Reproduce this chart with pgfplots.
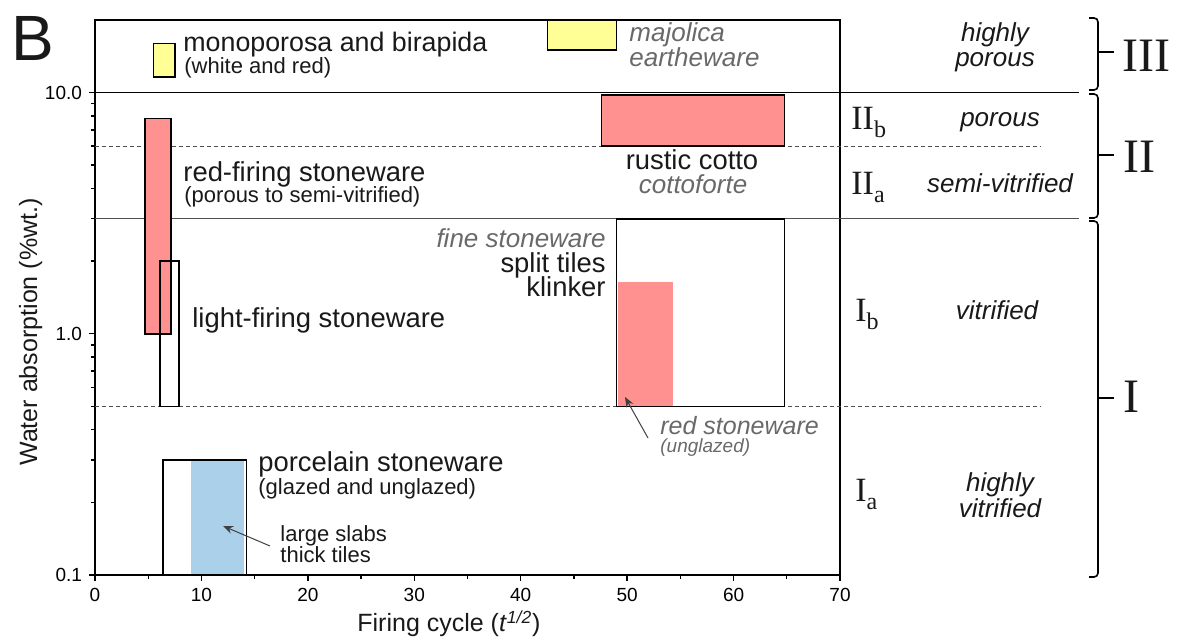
\documentclass[border=0pt]{standalone}
\usepackage{fontspec}
\setmainfont{Liberation Sans}
\newfontfamily\romanfont{Liberation Serif}
\usepackage{pgfplots}
\pgfplotsset{compat=1.18}
\usetikzlibrary{arrows.meta}

\definecolor{redfill}{RGB}{255,145,145}
\definecolor{yellowfill}{RGB}{255,255,150}
\definecolor{bluefill}{RGB}{170,208,234}
\definecolor{notegray}{RGB}{105,105,105}
\definecolor{refgray}{RGB}{80,80,80}
\definecolor{textblack}{RGB}{25,25,25}

\newcommand{\fs}[1]{\fontsize{#1}{#1}\selectfont}

\begin{document}
\begin{tikzpicture}
\begin{axis}[
  scale only axis,
  width=372.5pt, height=277.5pt,
  at={(0,0)}, anchor=south west,
  xmin=0, xmax=70,
  ymode=log, ymin=0.1, ymax=20,
  xtick={0,10,...,70},
  xticklabels={0,10,20,30,40,50,60,70},
  minor xtick={5,15,...,65},
  ytick={0.1,1,10},
  yticklabels={0.1,1.0,10.0},
  tick pos=left,
  tick align=outside,
  major tick length=3pt, minor tick length=1.8pt,
  tick label style={font=\fs{9.5}},
  axis line style={line width=0.8pt},
  every tick/.style={black, line width=0.7pt},
  no markers,
  clip=false,
]
% zone limits (water absorption classes)
\addplot[black, line width=0.9pt] coordinates {(0,10) (92.5,10)};
\addplot[refgray, line width=0.5pt] coordinates {(0,3) (92.5,3)};
\addplot[refgray, line width=0.5pt, dash pattern=on 2pt off 1.5pt] coordinates {(0,6) (88.8,6)};
\addplot[refgray, line width=0.5pt, dash pattern=on 2pt off 1.5pt] coordinates {(0,0.5) (88.8,0.5)};

% monoporosa / majolica
\addplot[fill=yellowfill, draw=black, line width=0.8pt] coordinates {(5.5,11.6) (7.5,11.6) (7.5,16) (5.5,16)} -- cycle;
\addplot[fill=yellowfill, draw=black, line width=0.8pt] coordinates {(42.5,15) (49.0,15) (49.0,20) (42.5,20)} -- cycle;
% rustic cotto
\addplot[fill=redfill, draw=black, line width=0.8pt] coordinates {(47.6,6) (64.8,6) (64.8,9.8) (47.6,9.8)} -- cycle;
% red-firing stoneware
\addplot[fill=redfill, draw=black, line width=0.8pt] coordinates {(4.7,1.0) (7.14,1.0) (7.14,7.8) (4.7,7.8)} -- cycle;
% light-firing stoneware
\addplot[draw=black, line width=0.8pt] coordinates {(6.1,0.5) (7.9,0.5) (7.9,2.0) (6.1,2.0)} -- cycle;
% red stoneware and fine stoneware
\addplot[fill=redfill, draw=none] coordinates {(49.1,0.5) (54.3,0.5) (54.3,1.64) (49.1,1.64)} -- cycle;
\addplot[draw=black, line width=0.8pt] coordinates {(49.0,0.5) (64.8,0.5) (64.8,3.0) (49.0,3.0)} -- cycle;
% porcelain stoneware
\addplot[fill=bluefill, draw=none] coordinates {(9.0,0.1) (14.0,0.1) (14.0,0.3) (9.0,0.3)} -- cycle;
\addplot[draw=black, line width=0.8pt] coordinates {(6.4,0.1) (14.25,0.1) (14.25,0.3) (6.4,0.3)} -- cycle;
\end{axis}

% annotations, in pixel units of the reference
\begin{scope}[x=0.5pt, y=-0.5pt, shift={(-95,-575)}, every node/.style={inner sep=0pt, text=textblack}]
\node[font=\fs{32}] at (33,38) {B};
\node[anchor=base, rotate=90, font=\fs{12.5}] at (37,332) {Water absorption (\%wt.)};
\node[anchor=base west, font=\fs{12.5}] at (357,632) {Firing cycle (\textit{t}\textsuperscript{\textit{1/2}})};

\node[anchor=base west, font=\fs{13.4}] at (183,52) {monoporosa and birapida};
\node[anchor=base west, font=\fs{11}] at (184,74) {(white and red)};
\node[anchor=base west, font=\fs{13}\itshape, text=notegray] at (629,42) {majolica};
\node[anchor=base west, font=\fs{13}\itshape, text=notegray] at (629,67) {eartheware};
\node[anchor=base west, font=\fs{13.7}] at (183,182) {red-firing stoneware};
\node[anchor=base west, font=\fs{11}] at (184,203) {(porous to semi-vitrified)};
\node[anchor=base, font=\fs{13.7}] at (692,170) {rustic cotto};
\node[anchor=base, font=\fs{13}\itshape, text=notegray] at (693,194) {cottoforte};
\node[anchor=base east, font=\fs{13}\itshape, text=notegray] at (606,248) {fine stoneware};
\node[anchor=base east, font=\fs{13.7}] at (606,273) {split tiles};
\node[anchor=base east, font=\fs{13.7}] at (606,297) {klinker};
\node[anchor=base west, font=\fs{13.7}] at (192,328) {light-firing stoneware};
\node[anchor=base west, font=\fs{12.5}\itshape, text=notegray] at (660,435) {red stoneware};
\node[anchor=base west, font=\fs{9.5}\itshape, text=notegray] at (660,453) {(unglazed)};
\node[anchor=base west, font=\fs{13.7}] at (258,472) {porcelain stoneware};
\node[anchor=base west, font=\fs{11}] at (258,495) {(glazed and unglazed)};
\node[anchor=base west, font=\fs{11}] at (280,542) {large slabs};
\node[anchor=base west, font=\fs{11}] at (280,563) {thick tiles};
\draw[-{Stealth[length=5pt,width=4pt]}, line width=0.5pt, black!75] (270,546) -- (223,526);
\draw[-{Stealth[length=5pt,width=4pt]}, line width=0.5pt, black!75] (648,438) -- (625,397);

% class labels
\node[anchor=base west, font=\romanfont\fs{17}] at (851,130) {II\raisebox{-4pt}{\fs{12}b}};
\node[anchor=base west, font=\romanfont\fs{17}] at (851,195) {II\raisebox{-4pt}{\fs{12}a}};
\node[anchor=base west, font=\romanfont\fs{17}] at (855,322) {I\raisebox{-4pt}{\fs{12}b}};
\node[anchor=base west, font=\romanfont\fs{17}] at (855,502) {I\raisebox{-4pt}{\fs{12}a}};

\node[anchor=base, font=\fs{13}\itshape] at (995,42) {highly};
\node[anchor=base, font=\fs{13}\itshape] at (995,67) {porous};
\node[anchor=base, font=\fs{13}\itshape] at (1000,127) {porous};
\node[anchor=base, font=\fs{13}\itshape] at (1000,193) {semi-vitrified};
\node[anchor=base, font=\fs{13}\itshape] at (997,320) {vitrified};
\node[anchor=base, font=\fs{13}\itshape] at (1000,492) {highly};
\node[anchor=base, font=\fs{13}\itshape] at (1000,518) {vitrified};

% brackets
\draw[line width=0.8pt, rounded corners=2pt] (1089,18) -- (1098,18) -- (1098,90) -- (1089,90);
\draw[line width=0.8pt, rounded corners=2pt] (1089,94) -- (1098,94) -- (1098,218) -- (1089,218);
\draw[line width=0.8pt, rounded corners=2pt] (1089,221) -- (1098,221) -- (1098,577) -- (1089,577);
\draw[line width=0.8pt] (1098,52) -- (1114,52);
\draw[line width=0.8pt] (1098,155) -- (1114,155);
\draw[line width=0.8pt] (1098,398) -- (1114,398);
\node[anchor=base west, font=\romanfont\fs{24}] at (1122,72) {III};
\node[anchor=base west, font=\romanfont\fs{24}] at (1123,173) {II};
\node[anchor=base west, font=\romanfont\fs{24}] at (1123,413) {I};
\end{scope}

\pgfresetboundingbox
\begin{scope}[x=0.5pt, y=-0.5pt, shift={(-95,-575)}]
\useasboundingbox (0,0) rectangle (1186,640);
\end{scope}
\end{tikzpicture}
\end{document}
